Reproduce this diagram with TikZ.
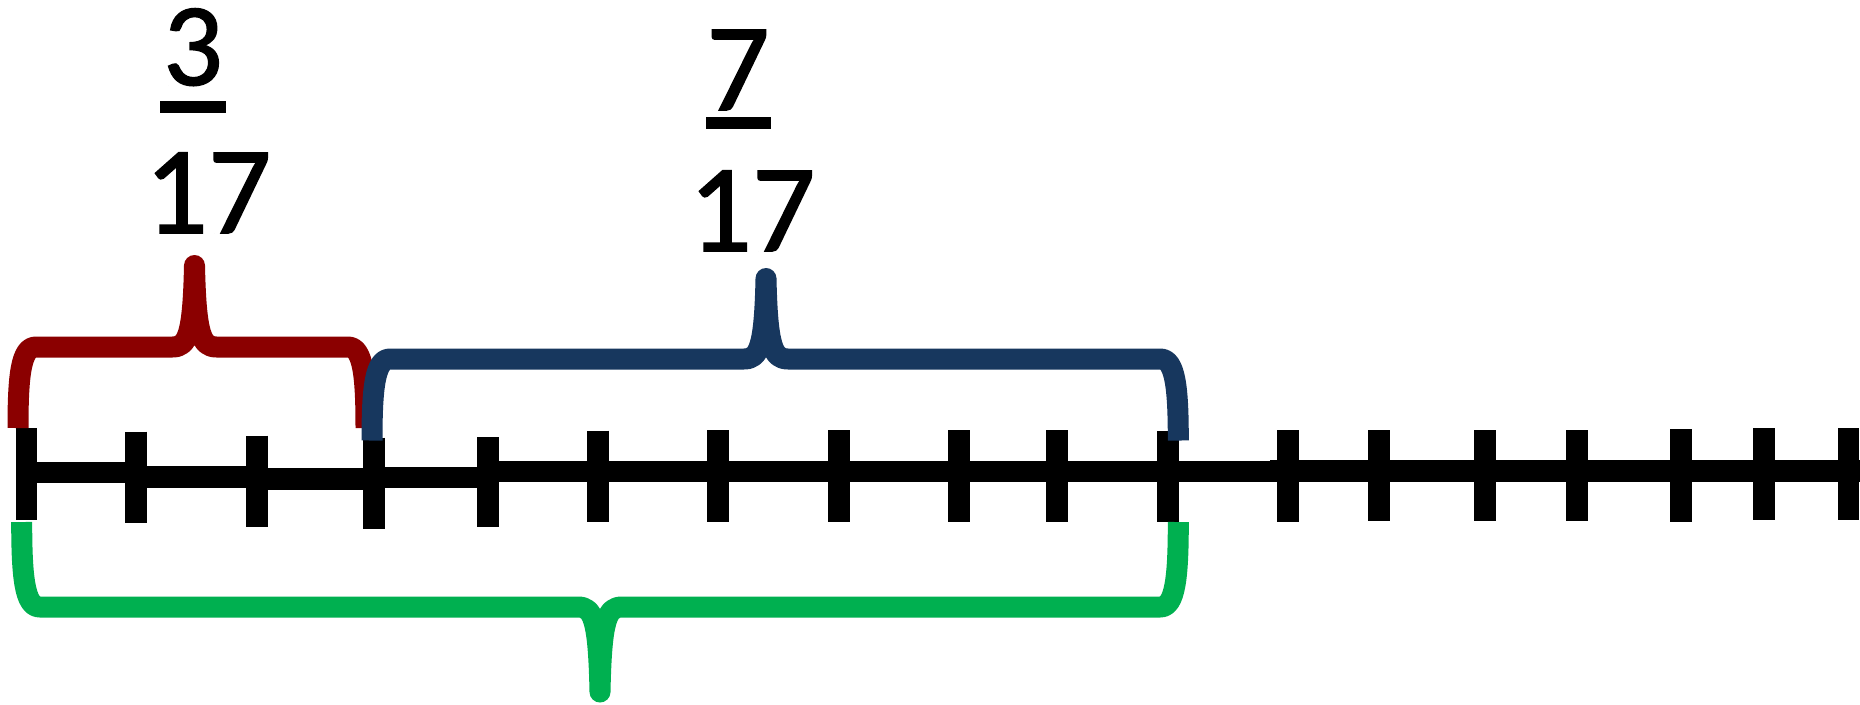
\documentclass[tikz,border=0pt]{standalone}
\usepackage{fontspec}
\setmainfont{Carlito}
\newfontfamily\numfont{Carlito}[FakeBold=1.2]
\definecolor{bred}{HTML}{8B0000}
\definecolor{bblue}{HTML}{17375E}
\definecolor{bgreen}{HTML}{00B050}
\begin{document}
\begin{tikzpicture}[x=1pt,y=-1pt,
  axis/.style={line width=21.5pt,line cap=butt,black},
  tickmark/.style={line width=21.5pt,line cap=butt,black},
  brace/.style={line width=21pt,line cap=butt,line join=round},
  numtext/.style={inner sep=0pt,anchor=base,font=\numfont\fontsize{125}{125}\selectfont},
  numsmall/.style={inner sep=0pt,anchor=base,font=\numfont\fontsize{118}{118}\selectfont},
  fracbar/.style={fill=black,inner sep=0pt,minimum height=12.2pt}]
\fill[white] (0,0) rectangle (1860,704);
\useasboundingbox (0,0) rectangle (1860,704);
% number line
\draw[axis] (26.7,472.5) -- (136,472.5);
\draw[axis] (136,477) -- (257,477);
\draw[axis] (257,479) -- (374,479);
\draw[axis] (374,477.5) -- (488,477.5);
\draw[axis] (488,471.7) -- (1270,471.7);
\draw[axis] (1270,470.8) -- (1860,470.8);
% ticks
\foreach \x/\ya/\yb [count=\i from 0] in {26.7/428/520, 136/431.7/523, 257/435.7/527, 374/437.7/529, 488/437/527, 598/430.7/521.7, 718/430/522, 839/430/522, 959/430/522, 1057/430/522, 1168/430.7/521.7, 1288/430/522, 1379/430/521, 1485/430/521, 1577/430/521, 1681/429/521.7, 1764/428/520, 1848.5/428/520}
  {\coordinate (t\i) at (\x,{(\ya+\yb)/2});
   \draw[tickmark] (\x,\ya) -- (\x,\yb);}
% red brace
\draw[brace,bred] (18,428) .. controls (18,375) and (21,347) .. (36,347) -- (172.5,347)
  .. controls (187.5,347) and (193,335) .. (194.5,265.5)
  .. controls (196,335) and (201.5,347) .. (216.5,347) -- (348,347)
  .. controls (363,347) and (366,375) .. (366,428);
% blue brace
\draw[brace,bblue] (372,440.5) .. controls (372,387.5) and (375,359) .. (390,359) -- (744,359)
  .. controls (759,359) and (764.5,347) .. (766,278.5)
  .. controls (767.5,347) and (773,359) .. (788,359) -- (1160.3,359)
  .. controls (1175.3,359) and (1178.3,387.5) .. (1178.3,440.5);
% green brace
\draw[brace,bgreen] (21.7,522) .. controls (21.7,577) and (24.7,607) .. (39.7,607) -- (578,607)
  .. controls (593,607) and (598.5,619) .. (600,692)
  .. controls (601.5,619) and (607,607) .. (622,607) -- (1160.3,607)
  .. controls (1175.3,607) and (1178.3,577) .. (1178.3,522);
% fractions
\node[numsmall] (n1) at (193,85) {3};
\node[fracbar,minimum width=66pt] (b1) at (193,106.6) {};
\node[numtext] (d1) at (208,233) {17};
\node[numtext] (n2) at (738,110) {7};
\node[fracbar,minimum width=65pt] (b2) at (738.5,123) {};
\node[numtext] (d2) at (752,251) {17};
\end{tikzpicture}
\end{document}
